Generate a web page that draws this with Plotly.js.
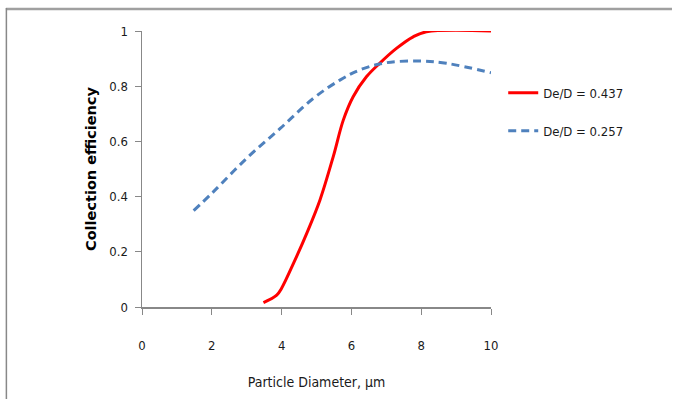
<!DOCTYPE html>
<html>
<head>
<meta charset="utf-8">
<script src="https://cdn.plot.ly/plotly-3.0.1.min.js"></script>
<style>html,body{margin:0;padding:0;background:#fff;}#chart{width:673px;height:399px;}</style>
</head>
<body>
<div id="chart"></div>
<script>
// Data
const redName = "De/D = 0.437";
const redX = [3.48, 3.86, 4.0, 4.34, 4.72, 5.1, 5.48, 5.77, 6.05, 6.43, 6.81, 7.29, 7.77, 8.15, 10.0];
const redY = [0.016, 0.043, 0.068, 0.158, 0.267, 0.388, 0.545, 0.678, 0.762, 0.834, 0.883, 0.937, 0.979, 0.997, 1.0];

const blueName = "De/D = 0.257";
const blueX = [1.48, 2.05, 3.0, 3.96, 4.91, 5.67, 6.24, 7.0, 7.96, 8.72, 10.0];
const blueY = [0.349, 0.418, 0.539, 0.647, 0.756, 0.822, 0.859, 0.885, 0.891, 0.883, 0.849];

const xTicks = [0, 2, 4, 6, 8, 10];
const yTicks = [0, 0.2, 0.4, 0.6, 0.8, 1];
const yTickText = ["0", "0.2", "0.4", "0.6", "0.8", "1"];

const narrow = '"Liberation Sans Narrow", "DejaVu Sans Condensed", Arial, sans-serif';

const traces = [
  {x: redX, y: redY, name: redName, mode: "lines", legendgroup: "a",
   line: {color: "#ff0000", width: 3, shape: "spline"}},
  {x: blueX, y: blueY, name: blueName, mode: "lines", legendgroup: "b",
   line: {color: "#4f81bd", width: 3, shape: "spline", dash: "8px,5px"}}
];

const L = 141.5, R = 491.5, T = 31, B = 307, W = 673, H = 399;
const pw = R - L, ph = B - T;
const px = v => (v - L) / pw;
const py = v => (B - v) / ph;

const layout = {
  width: W, height: H,
  margin: {l: L, r: W - R, t: T, b: H - B, pad: 0},
  paper_bgcolor: "#fff", plot_bgcolor: "#fff",
  font: {family: narrow, size: 12, color: "#1a1a1a"},
  showlegend: true,
  legend: {x: 1.035, y: 0.83, xanchor: "left", yanchor: "top",
           font: {family: narrow, size: 13, color: "#1a1a1a"},
           tracegroupgap: 18, traceorder: "grouped", itemwidth: 30,
           bgcolor: "rgba(0,0,0,0)"},
  xaxis: {range: [0, 10], tickvals: xTicks, ticks: "outside", ticklen: 6, tickcolor: "#888",
          showline: true, linecolor: "#888", linewidth: 1.5, showgrid: false, zeroline: false,
          ticklabelstandoff: 20, tickfont: {family: narrow, size: 13},
          title: {text: "Particle Diameter, µm", font: {family: narrow, size: 14}, standoff: 25}},
  yaxis: {range: [0, 1], tickvals: yTicks, ticktext: yTickText, ticks: "outside", ticklen: 6, tickcolor: "#888",
          showline: true, linecolor: "#888", linewidth: 1.5, showgrid: false, zeroline: false,
          ticklabelstandoff: 4, tickfont: {family: narrow, size: 13},
          title: {text: "<b>Collection efficiency</b>", font: {family: '"DejaVu Sans", Arial, sans-serif', size: 14.5, color: "#000"}, standoff: 9}},
  shapes: [
    {type: "line", xref: "paper", yref: "paper", x0: px(5), x1: px(673), y0: py(9), y1: py(9), line: {color: "#a0a0a0", width: 2.5}},
    {type: "line", xref: "paper", yref: "paper", x0: px(5.5), x1: px(5.5), y0: py(8), y1: py(399), line: {color: "#888", width: 1.5}}
  ]
};

Plotly.newPlot("chart", traces, layout, {displayModeBar: false, staticPlot: true});
</script>
</body>
</html>
